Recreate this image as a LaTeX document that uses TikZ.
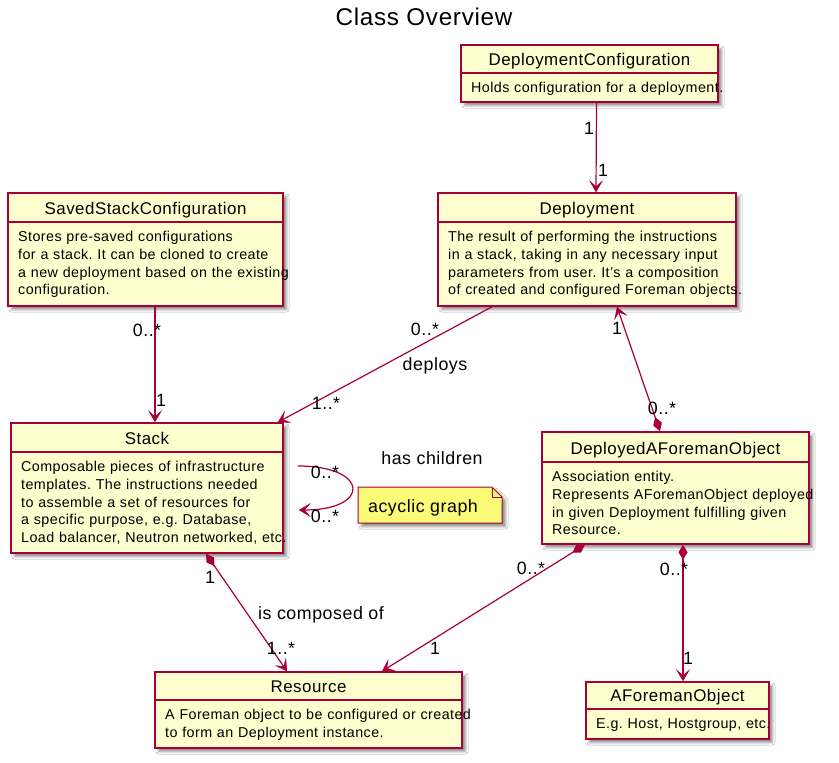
\documentclass[tikz,border=0pt]{standalone}
\usepackage{fontspec}
\setmainfont{Liberation Sans}[LetterSpace=3]
\usetikzlibrary{arrows.meta,fit,shadows.blur}
\definecolor{umlred}{HTML}{A80036}
\definecolor{umlfill}{HTML}{FEFECE}
\definecolor{notefill}{HTML}{FBFB77}
\frenchspacing
\tikzset{
 umlshadow/.style={blur shadow={shadow xshift=3.5pt, shadow yshift=-3.5pt, shadow blur radius=2.5pt, shadow opacity=45}},
 cls/.style={draw=umlred, fill=umlfill, line width=1.5pt, inner sep=0pt, rectangle, umlshadow},
 clsline/.style={draw=umlred, line width=1.5pt},
 hdr/.style={font=\fontsize{16.9}{20}\selectfont, inner sep=0pt, anchor=base},
 bodytext/.style={font=\fontsize{14.3}{17.8}\selectfont\frenchspacing, inner sep=0pt, text width=330pt, align=left, anchor=base west},
 lbl/.style={font=\fontsize{17.8}{20}\selectfont, inner sep=0pt, text height=12.8pt, text depth=0pt},
 assoc/.style={draw=umlred, line width=1.2pt, -{Stealth[length=12pt,width=14pt,inset=6pt,line width=0.6pt]}},
 comp/.style={draw=umlred, line width=1.2pt, {Diamond[length=15pt,width=9pt]}-{Stealth[length=12pt,width=14pt,inset=6pt,line width=0.6pt]}},
}
\newcommand{\umlclass}[8]{%
  \node[cls, fit={(#2,#3) (#4,#5)}] (#1) {};
  \draw[clsline] (#2,#6) -- (#4,#6);
  \node[hdr] (#1-title) at ({(#2+#4)/2},{#6-8}) {#7};
  \node[bodytext] (#1-body) at ({#2+10},{#6+19.5}) {#8};
}
\begin{document}
\begin{tikzpicture}[x=1pt,y=-1pt]
\useasboundingbox[fill=white] (0,0) rectangle (839,763);
\node[font=\fontsize{24.2}{28}\selectfont, inner sep=0pt, anchor=base] (title) at (424,25) {Class Overview};

\umlclass{depconf}{461}{45}{718}{102}{73}{DeploymentConfiguration}{Holds configuration for a deployment.}
\umlclass{saved}{8}{193}{283}{306}{222}{SavedStackConfiguration}{Stores pre-saved configurations\\for a stack. It can be cloned to create\\a new deployment based on the existing\\configuration.}
\umlclass{deploy}{438}{193}{736}{306}{222}{Deployment}{The result of performing the instructions\\in a stack, taking in any necessary input\\parameters from user. It's a composition\\of created and configured Foreman objects.}
\umlclass{stack}{11}{423}{283}{553}{452}{Stack}{Composable pieces of infrastructure\\templates. The instructions needed\\to assemble a set of resources for\\a specific purpose, e.g. Database,\\Load balancer, Neutron networked, etc.}
\umlclass{dafo}{542}{432}{809}{544}{462}{DeployedAForemanObject}{Association entity.\\Represents AForemanObject deployed\\in given Deployment fulfilling given\\Resource.}
\umlclass{resource}{155}{672}{462}{748}{700}{Resource}{A Foreman object to be configured or created\\to form an Deployment instance.}
\umlclass{afo}{586}{682}{769}{739}{709}{AForemanObject}{E.g. Host, Hostgroup, etc.}

% note
\path[draw=umlred, fill=notefill, line width=1pt, umlshadow] (358,487) -- (492,487) -- (502,497) -- (502,523) -- (358,523) -- cycle;
\draw[umlred, line width=1pt] (492,487) -- (492,497) -- (502,497);
\node[lbl] (note) at (423,506) {acyclic graph};

% connectors
\draw[assoc] ([xshift=7pt]depconf.south) -- ([xshift=9pt]deploy.north);
\node[lbl] at (589,128) {1};
\node[lbl] at (603,170) {1};

\draw[assoc] ([xshift=9.5pt]saved.south) -- ([xshift=8pt]stack.north);
\node[lbl] at (147,330) {0..*};
\node[lbl] at (161,400) {1};

\draw[assoc] ([xshift=-95pt]deploy.south) -- ([xshift=-6pt]stack.north east);
\node[lbl] at (425,329) {0..*};
\node[lbl] (deploys) at (435,364) {deploys};
\node[lbl] at (326,403) {1..*};

\draw[comp] ([xshift=-15.5pt]dafo.north) -- ([xshift=30pt]deploy.south);
\node[lbl] at (617,328) {1};
\node[lbl] at (662,408) {0..*};

\draw[assoc] ([xshift=14pt,yshift=22pt]stack.east) .. controls +(72pt,0pt) and +(72pt,0pt) .. ([xshift=15pt,yshift=-22pt]stack.east);
\node[lbl] at (325,472) {0..*};
\node[lbl] at (325,516) {0..*};
\node[lbl] (haschildren) at (432,458) {has children};

\draw[comp] ([xshift=59pt]stack.south) -- ([xshift=-21.5pt]resource.north);
\node[lbl] at (210,577) {1};
\node[lbl] (composed) at (321,613) {is composed of};
\node[lbl] at (281,648) {1..*};

\draw[comp] ([xshift=-90.5pt]dafo.south) -- ([xshift=73.5pt]resource.north);
\node[lbl] at (531,568) {0..*};
\node[lbl] at (435,648) {1};

\draw[comp] ([xshift=7.5pt]dafo.south) -- ([xshift=5.5pt]afo.north);
\node[lbl] at (674,569) {0..*};
\node[lbl] at (688,658) {1};
\end{tikzpicture}
\end{document}
